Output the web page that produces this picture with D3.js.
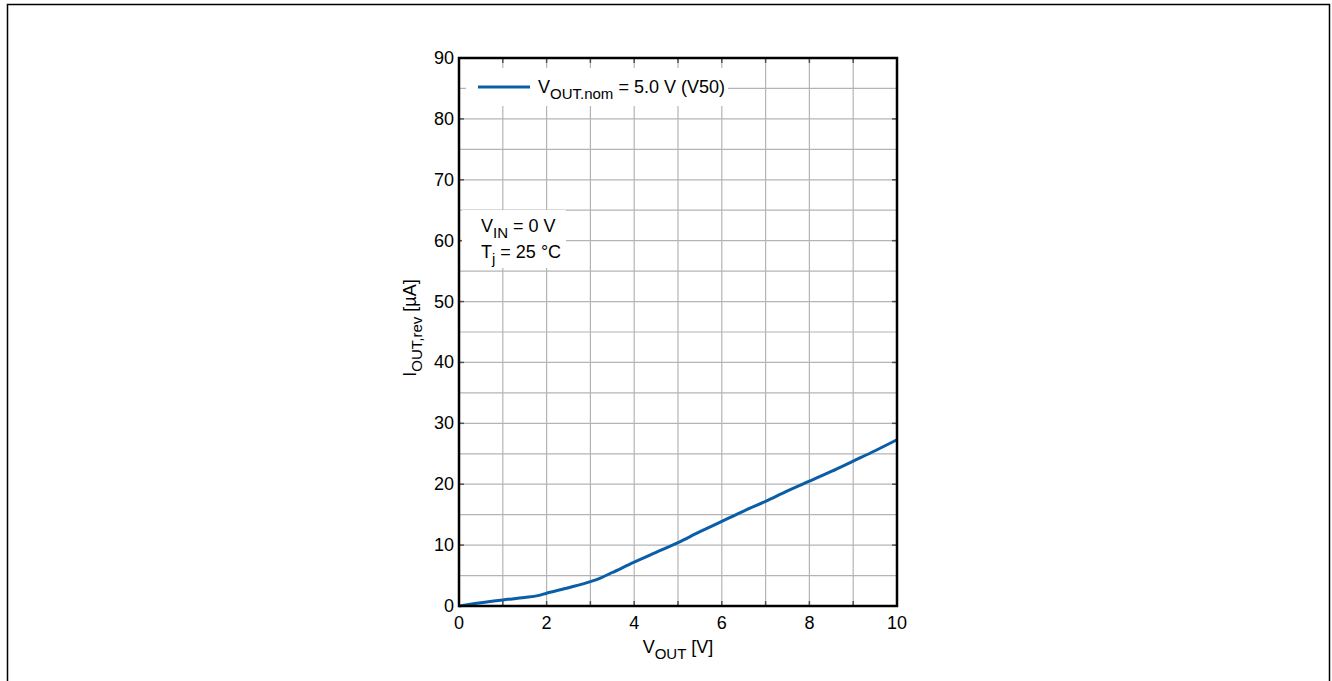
<!DOCTYPE html>
<html>
<head>
<meta charset="utf-8">
<script src="https://cdn.jsdelivr.net/npm/d3@7/dist/d3.min.js"></script>
<style>
  body { margin: 0; background: #fff; }
  text { font-family: "Liberation Sans", Arial, sans-serif; fill: #000; }
</style>
</head>
<body>
<div id="chart"></div>
<script>
// curve values
var vOut = [0, 0.5, 1, 1.5, 1.8, 2, 2.5, 3, 3.2, 3.5, 4, 4.5, 5, 5.5, 6, 6.5, 7, 7.5, 8, 8.5, 9, 9.5, 10];
var iRev = [0, 0.55, 1.0, 1.4, 1.7, 2.1, 3.0, 4.0, 4.5, 5.5, 7.2, 8.8, 10.4, 12.2, 13.9, 15.6, 17.2, 18.9, 20.5, 22.1, 23.8, 25.5, 27.3];
var xTicks = [0, 2, 4, 6, 8, 10];
var yTicks = [0, 10, 20, 30, 40, 50, 60, 70, 80, 90];
var xGrid = d3.range(0, 11, 1);
var yGrid = d3.range(0, 91, 5);

function init() {
    var w = 1332, h = 681;
    var left = 459, right = 897, top = 58, bottom = 606;
    var fs = 18, sub = 15;

    var svg = d3.select("#chart").append("svg")
        .attr("width", w).attr("height", h);

    // outer frame (open at the bottom)
    svg.append("path")
        .attr("d", "M7.5," + h + "V4.5H1329.5V" + h)
        .attr("fill", "none").attr("stroke", "#000").attr("stroke-width", 1.5);

    var x = d3.scaleLinear().domain([0, 10]).range([left, right]);
    var y = d3.scaleLinear().domain([0, 90]).range([bottom, top]);

    // grid
    svg.append("g").selectAll("line").data(xGrid).enter().append("line")
        .attr("x1", function(d) { return x(d); }).attr("x2", function(d) { return x(d); })
        .attr("y1", top).attr("y2", bottom)
        .attr("stroke", "#b4b4b4").attr("stroke-width", 1.2);
    svg.append("g").selectAll("line").data(yGrid).enter().append("line")
        .attr("x1", left).attr("x2", right)
        .attr("y1", function(d) { return y(d); }).attr("y2", function(d) { return y(d); })
        .attr("stroke", "#b4b4b4").attr("stroke-width", 1.2);

    // inner tick marks
    var tk = svg.append("g").attr("stroke", "#555").attr("stroke-width", 1.5);
    yTicks.forEach(function(d) {
        tk.append("line").attr("x1", left).attr("x2", left + 5).attr("y1", y(d)).attr("y2", y(d));
        tk.append("line").attr("x1", right - 5).attr("x2", right).attr("y1", y(d)).attr("y2", y(d));
    });
    xGrid.forEach(function(d) {
        tk.append("line").attr("x1", x(d)).attr("x2", x(d)).attr("y1", bottom).attr("y2", bottom - 5);
        tk.append("line").attr("x1", x(d)).attr("x2", x(d)).attr("y1", top).attr("y2", top + 5);
    });

    // legend box
    svg.append("rect").attr("x", 466).attr("y", 68).attr("width", 262).attr("height", 38).attr("fill", "#fff");
    svg.append("line").attr("x1", 478).attr("x2", 530).attr("y1", 87).attr("y2", 87)
        .attr("stroke", "#0a5ea8").attr("stroke-width", 3);
    var lg = svg.append("text").attr("x", 538).attr("y", 93).attr("font-size", fs);
    lg.append("tspan").text("V");
    lg.append("tspan").attr("dy", 6).attr("font-size", sub).text("OUT.nom");
    lg.append("tspan").attr("dy", -6).text(" = 5.0 V (V50)");

    // conditions box
    svg.append("rect").attr("x", 462).attr("y", 210).attr("width", 104).attr("height", 58).attr("fill", "#fff");
    var t1 = svg.append("text").attr("x", 481).attr("y", 232).attr("font-size", fs);
    t1.append("tspan").text("V");
    t1.append("tspan").attr("dy", 6).attr("font-size", sub).text("IN");
    t1.append("tspan").attr("dy", -6).text(" = 0 V");
    var t2 = svg.append("text").attr("x", 481).attr("y", 258).attr("font-size", fs);
    t2.append("tspan").text("T");
    t2.append("tspan").attr("dy", 6).attr("font-size", sub).text("j");
    t2.append("tspan").attr("dy", -6).text(" = 25 °C");

    // curve
    var line = d3.line()
        .x(function(d, i) { return x(vOut[i]); })
        .y(function(d) { return y(d); })
        .curve(d3.curveMonotoneX);
    svg.append("path").datum(iRev)
        .attr("d", line)
        .attr("fill", "none").attr("stroke", "#0a5ea8").attr("stroke-width", 3);

    // plot frame
    svg.append("rect").attr("x", left).attr("y", top)
        .attr("width", right - left).attr("height", bottom - top)
        .attr("fill", "none").attr("stroke", "#000").attr("stroke-width", 2.5);

    // tick labels
    svg.append("g").selectAll("text").data(xTicks).enter().append("text")
        .attr("x", function(d) { return x(d); }).attr("y", 629)
        .attr("text-anchor", "middle").attr("font-size", fs)
        .text(function(d) { return d; });
    svg.append("g").selectAll("text").data(yTicks).enter().append("text")
        .attr("x", left - 5).attr("y", function(d) { return y(d) + 6; })
        .attr("text-anchor", "end").attr("font-size", fs)
        .text(function(d) { return d; });

    // axis titles
    var xl = svg.append("text").attr("x", 678).attr("y", 653).attr("text-anchor", "middle").attr("font-size", fs);
    xl.append("tspan").text("V");
    xl.append("tspan").attr("dy", 6).attr("font-size", sub).text("OUT");
    xl.append("tspan").attr("dy", -6).text(" [V]");

    var yl = svg.append("text").attr("transform", "translate(416,328) rotate(-90)")
        .attr("text-anchor", "middle").attr("font-size", fs);
    yl.append("tspan").text("I");
    yl.append("tspan").attr("dy", 6).attr("font-size", sub).text("OUT,rev");
    yl.append("tspan").attr("dy", -6).text(" [µA]");
}

window.onload = init;
</script>
</body>
</html>
